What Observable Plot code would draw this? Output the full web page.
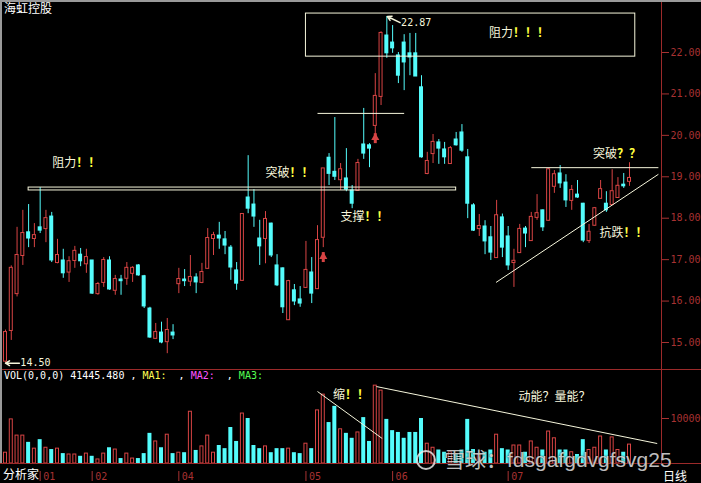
<!DOCTYPE html>
<html>
<head>
<meta charset="utf-8">
<script src="https://cdn.jsdelivr.net/npm/d3@7"></script>
<script src="https://cdn.jsdelivr.net/npm/@observablehq/plot@0.6"></script>
<style>
html, body { margin:0; padding:0; background:#000; }
#wrap { position:relative; width:701px; height:483px; background:#000; overflow:hidden; }
.hl { position:absolute; left:0; width:701px; height:1px; background:#9c2a2a; }
.vl { position:absolute; left:661px; top:0; width:1px; height:463px; background:#9c2a2a; }
.lbl { position:absolute; color:#fff; font-family:"Noto Sans CJK SC", sans-serif; font-size:12px; line-height:14px; white-space:pre; }
.mono { position:absolute; font-family:"DejaVu Sans Mono", monospace; font-size:10px; line-height:12px; white-space:pre; color:#fff; }
</style>
</head>
<body>
<div id="wrap"></div>
<script>
// ---- data ----
const opens = [14.55,15.29,16.18,17.10,17.66,17.51,17.78,17.75,18.04,16.93,
16.98,16.70,16.98,17.12,16.90,16.98,16.18,16.45,16.98,16.26,
16.52,16.55,16.67,16.86,16.60,15.82,15.10,15.24,15.02,15.24,
16.42,16.52,16.48,16.57,16.45,16.79,17.51,17.58,17.49,17.29,
16.74,16.50,18.50,18.33,17.51,17.51,17.87,16.86,16.79,15.55,
16.26,16.04,16.33,16.69,16.30,17.54,19.46,19.12,18.93,18.96,
18.67,18.67,19.78,19.76,20.24,20.94,22.41,22.24,21.93,22.24,
21.98,21.98,21.16,19.08,19.56,19.83,19.66,19.32,19.90,20.07,
19.47,18.31,17.75,17.80,17.54,17.05,18.02,17.56,16.93,17.17,
17.75,17.46,18.02,18.19,17.95,18.77,19.08,18.86,18.43,18.57,
18.35,17.46,17.83,18.48,18.35,18.33,18.50,18.81,18.89];
const closes = [15.24,16.79,17.10,17.63,17.51,17.58,17.70,17.99,16.98,17.10,
16.67,16.95,17.20,16.96,17.05,16.18,16.40,16.98,16.28,16.52,
16.48,16.79,16.79,16.62,15.87,15.12,15.24,15.00,15.29,15.17,
16.52,16.48,16.57,16.45,16.69,17.51,17.58,17.51,17.34,16.81,
16.42,18.09,18.23,18.04,17.32,17.97,17.10,16.38,15.85,16.47,
15.99,15.94,16.74,16.18,17.46,19.19,19.07,19.00,19.17,18.69,
18.35,19.32,19.56,19.68,20.94,22.46,21.98,22.10,21.44,21.76,
21.88,21.42,19.47,19.37,19.83,19.68,19.47,19.68,19.76,19.63,
18.35,17.70,17.80,17.44,17.17,18.06,17.29,16.86,16.96,17.73,
17.63,18.02,18.11,17.78,19.17,19.05,18.84,18.43,18.67,18.50,
17.46,17.66,18.23,18.69,18.19,18.64,18.77,18.77,18.96];
const highs = [15.30,16.85,17.78,18.19,18.33,17.87,18.74,18.19,18.14,17.49,
17.25,17.07,17.32,17.27,17.25,16.98,16.45,17.05,17.07,16.62,
16.62,16.93,16.83,16.88,16.62,15.85,15.46,15.49,15.58,15.43,
16.79,16.76,17.10,16.66,16.91,17.75,17.66,17.90,17.68,17.34,
16.93,18.10,19.51,18.69,17.95,18.16,17.88,17.12,16.80,16.50,
16.40,16.35,17.44,17.05,17.82,19.20,19.56,20.43,19.32,19.68,
18.79,19.42,20.65,19.80,21.49,22.50,22.87,22.65,22.00,22.43,
22.46,22.46,21.44,19.59,20.02,19.90,19.83,19.73,20.07,20.26,
19.66,18.35,18.09,17.94,17.80,18.43,18.10,17.80,17.25,17.85,
17.80,18.14,18.57,18.20,19.20,19.15,19.27,19.05,18.79,18.91,
18.36,17.85,18.26,18.91,18.64,19.17,18.98,19.08,19.34];
const lows = [14.50,15.05,16.10,16.86,17.29,17.29,17.63,17.41,16.93,16.90,
16.55,16.45,16.79,16.83,16.67,16.16,16.14,16.33,16.26,16.14,
16.14,16.38,16.45,16.60,15.82,15.10,15.08,14.97,14.73,15.07,
16.18,16.35,16.35,16.18,16.42,16.79,17.10,17.25,17.12,16.50,
16.26,16.48,18.11,17.78,16.86,16.90,17.05,16.35,15.70,15.53,
15.89,15.85,16.32,15.94,16.28,17.29,18.79,18.91,18.67,18.64,
18.23,18.65,19.42,19.22,20.00,20.72,21.86,21.98,21.25,21.08,
21.44,21.42,19.45,19.05,19.32,19.30,19.30,19.30,19.74,19.59,
17.99,17.68,17.56,17.12,16.98,17.03,17.05,16.74,16.33,17.15,
17.29,17.44,17.95,17.68,17.93,18.60,18.72,18.26,18.19,18.48,
17.41,17.39,17.81,18.46,18.14,18.31,18.48,18.72,18.77];
const volumes = [2400,9800,6200,6200,4700,3300,5300,3500,3100,3300,
2200,2000,2000,1600,2200,1600,900,2200,3500,3100,
1100,2200,1100,1100,2200,6700,4900,3500,6400,2200,
2400,2400,11500,2900,3800,6200,2400,4000,3300,8000,
4900,11100,10000,4000,3300,3800,2400,3300,3300,3300,
2400,2200,4400,3300,11800,15300,9100,12700,7600,6700,
5600,6900,10200,4900,17300,16200,9800,7300,6900,5600,
6900,6900,10000,4400,3500,3000,2500,2500,2000,3000,
9800,3100,2000,2500,3000,6400,3300,3000,4000,4000,
2500,4900,3500,3000,7100,5600,3000,3000,2500,2000,
5300,3000,3500,6000,3000,5800,3000,2500,4200];

const priceTicks = [15, 16, 17, 18, 19, 20, 21, 22];
const volTicks = [10000];
const monthIdx = [6, 15, 30, 52, 67, 87];
const monthLabels = ["01", "02", "04", "05", "06", "07"];

// annotations (positions in candle index / price units)
const priceNotes = [
  {i: 8.1, p: 19.34, label: "阻力", marks: "！！"},
  {i: 45, p: 19.08, label: "突破", marks: "！！"},
  {i: 58, p: 18.02, label: "支撑", marks: "！！"},
  {i: 83.7, p: 22.46, label: "阻力", marks: "！！！"},
  {i: 101.7, p: 19.54, label: "突破", marks: "？？"},
  {i: 102.8, p: 17.63, label: "抗跌", marks: "！！"}
];
const priceRects = [
  {x1: 4, x2: 78, y1: 18.67, y2: 18.74},
  {x1: 52, x2: 109, y1: 21.90, y2: 22.94}
];
const priceLines = [
  {x1: 54, y1: 20.53, x2: 69, y2: 20.53},
  {x1: 91, y1: 19.22, x2: 113, y2: 19.22},
  {x1: 84.9, y1: 16.45, x2: 113, y2: 19.06}
];
const upArrows = [
  {i: 55, top: 17.17, bottom: 16.93},
  {i: 64, top: 20.04, bottom: 19.80}
];
const extremes = [
  {x1: 68.3, y1: 22.72, x2: 66.1, y2: 22.87, label: "22.87"},
  {x1: 2.4, y1: 14.50, x2: 0, y2: 14.50, label: "14.50"}
];
const volLines = [
  {x1: 54, y1: 16000, x2: 65.2, y2: 5560},
  {x1: 64.2, y1: 17100, x2: 112.8, y2: 4440}
];
const volNotes = [
  {i: 56.7, v: 15100, label: "缩", marks: "！！"}
];
const volNotes2 = [
  {i: 88.8, v: 14670, label: "动能？量能？"}
];

// ---- styling ----
const RED = "#d84444", CYAN = "#54fcfc", AXIS = "#a83232", CREAM = "#f6f6dc", YEL = "#ffff40";
const candles = opens.map((o, i) => ({i, o, c: closes[i], h: highs[i], l: lows[i], v: volumes[i], up: closes[i] >= o}));
const xs = {type: "linear", domain: [0, 108], range: [5, 629], axis: null};
const baseStyle = top => ({position: "absolute", left: "0px", top: top + "px", background: "transparent",
  color: AXIS, fontFamily: "'DejaVu Sans Mono', monospace", fontSize: "10px", overflow: "visible"});
const cjk = "Noto Sans CJK SC";

const priceChart = Plot.plot({
  width: 701, height: 369, marginLeft: 0, marginRight: 40, marginTop: 0, marginBottom: 0,
  style: baseStyle(0),
  x: xs,
  y: {domain: [15, 22], range: [342, 52], axis: null},
  marks: [
    Plot.axisY({anchor: "right", ticks: priceTicks, tickFormat: d => d.toFixed(2), tickSize: 7, tickPadding: 2, color: AXIS}),
    Plot.ruleX(candles, {filter: d => d.up, x: "i", y1: "l", y2: "h", stroke: RED}),
    Plot.ruleX(candles, {filter: d => !d.up, x: "i", y1: "l", y2: "h", stroke: CYAN}),
    Plot.rect(candles, {filter: d => d.up, x1: "i", x2: "i", y1: "o", y2: "c", fill: "#000", stroke: RED, insetLeft: -1.5, insetRight: -1.5, insetTop: -0.5, insetBottom: -0.5}),
    Plot.rect(candles, {filter: d => !d.up, x1: "i", x2: "i", y1: "o", y2: "c", fill: CYAN, insetLeft: -2, insetRight: -2, insetTop: -0.5, insetBottom: -0.5}),
    Plot.rect(priceRects, {x1: "x1", x2: "x2", y1: "y1", y2: "y2", fill: "none", stroke: CREAM}),
    Plot.link(priceLines, {x1: "x1", y1: "y1", x2: "x2", y2: "y2", stroke: CREAM}),
    Plot.ruleX(upArrows, {x: "i", y1: "bottom", y2: "top", stroke: RED, strokeWidth: 3}),
    Plot.dot(upArrows, {x: "i", y: "top", symbol: "triangle", r: 3, fill: RED, dy: 4}),
    Plot.arrow(extremes, {x1: "x1", y1: "y1", x2: "x2", y2: "y2", stroke: CREAM, headLength: 5}),
    Plot.text(extremes, {x: "x1", y: "y1", text: "label", textAnchor: "start", dx: 1, fill: CREAM, fontSize: 10}),
    Plot.text(priceNotes, {x: "i", y: "p", text: "label", textAnchor: "start", fill: CREAM, fontFamily: cjk, fontSize: 12}),
    Plot.text(priceNotes, {x: "i", y: "p", text: "marks", textAnchor: "start", dx: 24, fill: YEL, fontFamily: cjk, fontSize: 12, fontWeight: "bold"})
  ]
});

const volChart = Plot.plot({
  width: 701, height: 94, marginLeft: 0, marginRight: 40, marginTop: 0, marginBottom: 0,
  style: baseStyle(369),
  x: xs,
  y: {domain: [0, 10000], range: [94, 49], axis: null},
  marks: [
    Plot.axisY({anchor: "right", ticks: volTicks, tickFormat: d => String(d), tickSize: 7, tickPadding: 2, color: AXIS}),
    Plot.rect(candles, {filter: d => d.up, x1: "i", x2: "i", y1: 0, y2: "v", fill: "#000", stroke: RED, insetLeft: -1.5, insetRight: -1.5}),
    Plot.rect(candles, {filter: d => !d.up, x1: "i", x2: "i", y1: 0, y2: "v", fill: CYAN, insetLeft: -2, insetRight: -2}),
    Plot.link(volLines, {x1: "x1", y1: "y1", x2: "x2", y2: "y2", stroke: CREAM}),
    Plot.text(volNotes, {x: "i", y: "v", text: "label", textAnchor: "start", fill: CREAM, fontFamily: cjk, fontSize: 12}),
    Plot.text(volNotes, {x: "i", y: "v", text: "marks", textAnchor: "start", dx: 12, fill: YEL, fontFamily: cjk, fontSize: 12, fontWeight: "bold"}),
    Plot.text(volNotes2, {x: "i", y: "v", text: "label", textAnchor: "start", fill: CREAM, fontFamily: cjk, fontSize: 12})
  ]
});

const months = monthIdx.map((i, k) => ({i, label: monthLabels[k]}));
const axisChart = Plot.plot({
  width: 701, height: 20, marginLeft: 0, marginRight: 40, marginTop: 8, marginBottom: 2,
  style: baseStyle(463),
  x: xs,
  marks: [
    Plot.tickX(months, {x: "i", stroke: AXIS}),
    Plot.text(months, {x: "i", text: "label", frameAnchor: "middle", textAnchor: "start", dx: 3, fill: AXIS, fontSize: 10})
  ]
});

const wrap = document.getElementById("wrap");
wrap.append(priceChart, volChart, axisChart);
wrap.insertAdjacentHTML("beforeend", `
  <div class="hl" style="top:369px"></div>
  <div class="hl" style="top:463px"></div>
  <div class="vl"></div>
  <div style="position:absolute;left:0;top:0;width:701px;height:2px;background:#9a9a9a"></div>
  <div style="position:absolute;left:0;top:0;width:2px;height:463px;background:#9a9a9a"></div>
  <div class="lbl" style="left:3px;top:467px;background:#000">分析家</div>
  <div class="lbl" style="left:4px;top:1px">海虹控股</div>
  <div class="mono" style="left:4px;top:370px">VOL(0,0,0) 41445.480 , <span style="color:#ffff54">MA1:</span>  , <span style="color:#ff54ff">MA2:</span>  , <span style="color:#54ff54">MA3:</span></div>
  <div class="lbl" style="left:663px;top:469px">日线</div>
  <div style="position:absolute;left:416px;top:446px;white-space:pre;color:rgba(235,235,235,0.82);font-family:'Liberation Sans','Noto Sans CJK SC',sans-serif;font-size:21px;line-height:24px;text-shadow:0 0 2px rgba(0,0,0,0.9)"><span style="display:inline-block;width:16px;height:16px;border:2px solid rgba(235,235,235,0.82);border-radius:50%;vertical-align:-3px;margin-right:8px"></span><span style="font-family:'Noto Sans CJK SC'">雪球：</span>fdsgafgdvgfsvg25</div>
`);
</script>
</body>
</html>
